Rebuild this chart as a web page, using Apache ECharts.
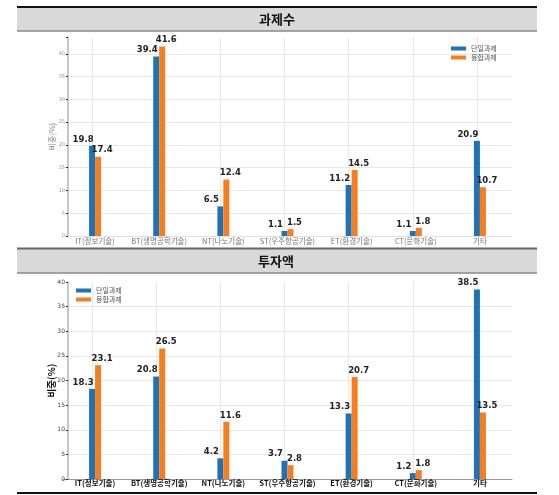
<!DOCTYPE html>
<html><head><meta charset="utf-8">
<script src="https://cdn.jsdelivr.net/npm/echarts@6/dist/echarts.min.js"></script>
<style>html,body{margin:0;padding:0;background:#fff}#c{width:559px;height:495px}</style>
</head><body><div id="c"></div>
<script>
const categories = ["IT(정보기술)", "BT(생명공학기술)", "NT(나노기술)", "ST(우주항공기술)", "ET(환경기술)", "CT(문화기술)", "기타"];
const seriesNames = ["단일과제", "융합과제"];
const taskSingle = [19.8, 39.4, 6.5, 1.1, 11.2, 1.1, 20.9];
const taskFusion = [17.4, 41.6, 12.4, 1.5, 14.5, 1.8, 10.7];
const investSingle = [18.3, 20.8, 4.2, 3.7, 13.3, 1.2, 38.5];
const investFusion = [23.1, 26.5, 11.6, 2.8, 20.7, 1.8, 13.5];
const panelTitles = ["과제수", "투자액"];

const BLUE = '#1f73b4', ORANGE = '#f57f20';
const FONT = '"Noto Sans CJK KR", "Noto Sans", sans-serif';
const chart = echarts.init(document.getElementById('c'), null, {renderer: 'canvas'});

function xAxis(gi, bold) {
  return {
    type: 'category', gridIndex: gi, data: categories,
    axisLine: {show: true, lineStyle: {color: bold ? '#999' : '#e0e0e0', width: 1}},
    axisTick: {show: false},
    splitLine: {show: false},
    axisLabel: {interval: 0, fontSize: 7.5, margin: bold ? 0 : 1, color: bold ? '#111' : '#777',
      fontWeight: bold ? 'bold' : 'normal', fontFamily: FONT}
  };
}
function yAxis(gi, max, bold) {
  return {
    type: 'value', gridIndex: gi, min: 0, max: max, interval: 5, offset: -5,
    axisLine: {show: true, lineStyle: {color: '#b5b5b5', width: 1.5}},
    axisTick: {show: true, length: 2, lineStyle: {color: '#333', width: 1}},
    axisLabel: {fontSize: bold ? 6 : 5, margin: 3, color: bold ? '#444' : '#999', fontFamily: 'DejaVu Sans',
      formatter: v => (v % 5 === 0 ? String(v) : '')},
    splitLine: {show: true, showMaxLine: false, lineStyle: {color: '#e8e8e8', width: 1}},
    name: '비중(%)', nameLocation: 'middle', nameGap: bold ? 12 : 12, nameMoveOverlap: false,
    nameTextStyle: {fontSize: bold ? 9.5 : 8, color: bold ? '#111' : '#888', fontWeight: bold ? 'bold' : 'normal', fontFamily: FONT}
  };
}
function barSeries(name, data, gi, isBlue, withGrid) {
  const s = {
    type: 'bar', name: name, xAxisIndex: gi, yAxisIndex: gi, data: data,
    barWidth: 6, barGap: '0%', z: 3,
    itemStyle: {color: isBlue ? BLUE : ORANGE},
    label: {show: true, position: 'top', distance: 2, offset: [isBlue ? -9 : 4, 0],
      fontSize: 8.5, fontWeight: 'bold', color: '#222', fontFamily: 'DejaVu Sans'}
  };
  if (withGrid) {
    s.markLine = {
      silent: true, symbol: 'none', z: 1, animation: false,
      label: {show: false},
      lineStyle: {color: '#e8e8e8', width: 1, type: 'solid'},
      data: categories.map(c => ({xAxis: c}))
    };
  }
  return s;
}
function legend(left, top) {
  return {
    orient: 'vertical', left: left, top: top, itemWidth: 15, itemHeight: 4, itemGap: 0,
    icon: 'rect', data: seriesNames,
    textStyle: {fontSize: 7, color: '#555', fontFamily: FONT, lineHeight: 9, padding: [0, 0, 0, 0]}
  };
}

const option = {
  animation: false,
  backgroundColor: '#fff',
  grid: [
    {left: 63, width: 449, top: 37, height: 199},
    {left: 63, width: 449, top: 282, height: 197}
  ],
  xAxis: [xAxis(0, false), xAxis(1, true)],
  yAxis: [yAxis(0, 43.7, false), yAxis(1, 40, true)],
  legend: [legend(446, 39), legend(71, 281)],
  series: [
    barSeries(seriesNames[0], taskSingle, 0, true, true),
    barSeries(seriesNames[1], taskFusion, 0, false, false),
    barSeries(seriesNames[0], investSingle, 1, true, true),
    barSeries(seriesNames[1], investFusion, 1, false, false)
  ],
  graphic: [
    {type: 'rect', shape: {x: 17, y: 8, width: 520, height: 23}, style: {fill: '#d9d9d9'}, z: -1},
    {type: 'line', shape: {x1: 17, y1: 7, x2: 537, y2: 7}, style: {stroke: '#111', lineWidth: 2}},
    {type: 'line', shape: {x1: 17, y1: 31, x2: 537, y2: 31}, style: {stroke: '#8a8a8a', lineWidth: 1.5}},
    {type: 'text', x: 277, y: 19.5, style: {text: panelTitles[0], font: 'bold 13px ' + FONT, fill: '#111', textAlign: 'center', textVerticalAlign: 'middle'}},
    {type: 'rect', shape: {x: 17, y: 249, width: 520, height: 24}, style: {fill: '#d9d9d9'}, z: -1},
    {type: 'line', shape: {x1: 17, y1: 248.5, x2: 537, y2: 248.5}, style: {stroke: '#666', lineWidth: 2}},
    {type: 'line', shape: {x1: 17, y1: 273, x2: 537, y2: 273}, style: {stroke: '#8a8a8a', lineWidth: 1.5}},
    {type: 'text', x: 276, y: 261.5, style: {text: panelTitles[1], font: 'bold 13px ' + FONT, fill: '#111', textAlign: 'center', textVerticalAlign: 'middle'}},
    {type: 'line', shape: {x1: 17, y1: 493, x2: 537, y2: 493}, style: {stroke: '#111', lineWidth: 2}}
  ]
};
chart.setOption(option);
</script>
</body></html>
